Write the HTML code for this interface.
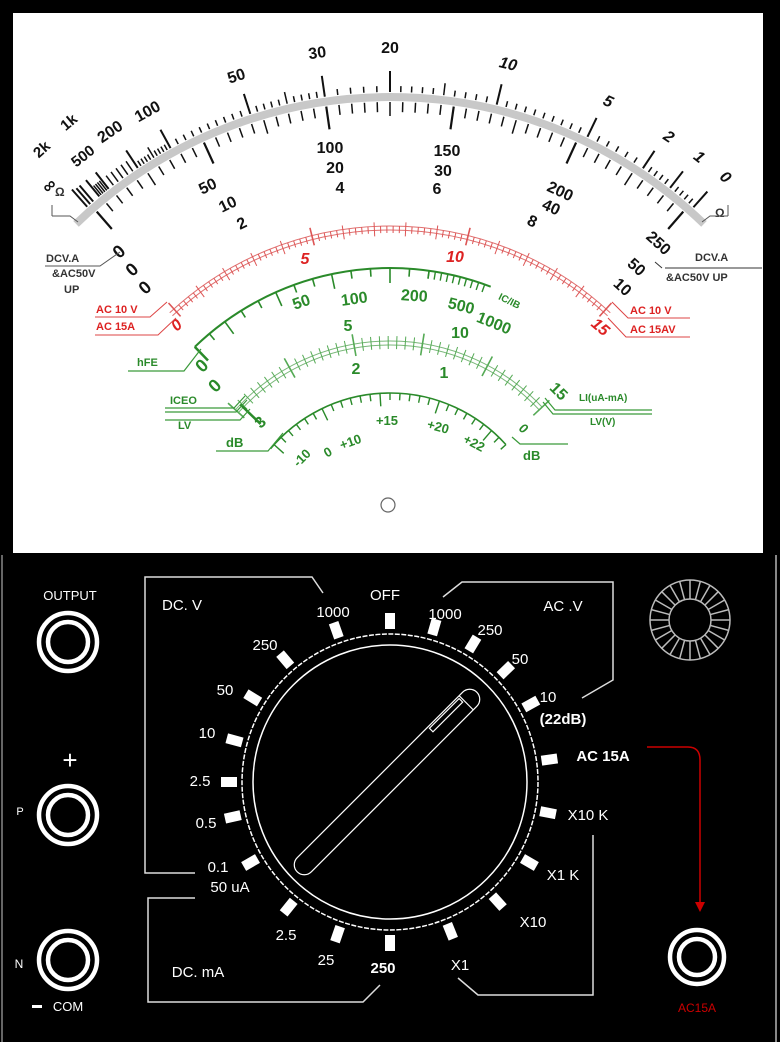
<!DOCTYPE html>
<html><head><meta charset="utf-8"><style>
html,body{margin:0;padding:0;background:#000;}
svg{display:block;}
.b{font-family:"Liberation Sans",sans-serif;font-weight:bold;}
.w{font-family:"Liberation Sans",sans-serif;fill:#fff;font-size:15px;}
</style></head><body>
<svg id="s" width="780" height="1042" viewBox="0 0 780 1042" xmlns="http://www.w3.org/2000/svg">
<rect x="0" y="0" width="780" height="1042" fill="#000"/>
<rect x="13" y="13" width="750" height="540" fill="#fff"/>
<line x1="776" y1="555" x2="776" y2="1042" stroke="#888" stroke-width="2"/>
<line x1="2" y1="555" x2="2" y2="1042" stroke="#666" stroke-width="2"/>
<g id="ticks"></g>
<path id="band" fill="none" stroke="#c8c8c8" stroke-width="8"/>

<g class="b" font-size="16" fill="#111" text-anchor="middle">
<text x="390" y="53">20</text>
<text x="318" y="58" transform="rotate(-8 318 58)">30</text>
<text x="238" y="81" transform="rotate(-18 238 81)">50</text>
<text x="150" y="116" transform="rotate(-29 150 116)">100</text>
<text x="113" y="136" transform="rotate(-34 113 136)">200</text>
<text x="86" y="160" transform="rotate(-38 86 160)" font-size="15">500</text>
<text x="72" y="126" transform="rotate(-40 72 126)" font-size="15">1k</text>
<text x="45" y="153" transform="rotate(-42 45 153)" font-size="15">2k</text>
<text x="53" y="190" transform="rotate(-42 53 190)" font-size="18">∞</text>
<g font-style="italic">
<text x="507" y="69" transform="rotate(13 507 69)">10</text>
<text x="606" y="106" transform="rotate(25 606 106)">5</text>
<text x="666" y="141" transform="rotate(34 666 141)">2</text>
<text x="696" y="161" transform="rotate(38 696 161)">1</text>
<text x="722" y="181" transform="rotate(42 722 181)">0</text>
</g>
<text x="330" y="153">100</text><text x="335" y="173">20</text><text x="340" y="193">4</text>
<text x="447" y="156">150</text><text x="443" y="176">30</text><text x="437" y="194">6</text>
<text x="210" y="191" transform="rotate(-26 210 191)">50</text>
<text x="230" y="209" transform="rotate(-26 230 209)">10</text>
<text x="244" y="228" transform="rotate(-26 244 228)">2</text>
<text x="558" y="196" transform="rotate(25 558 196)">200</text>
<text x="549" y="212" transform="rotate(25 549 212)">40</text>
<text x="530" y="226" transform="rotate(25 530 226)">8</text>
<text x="655" y="247" transform="rotate(42 655 247)">250</text>
<text x="633" y="271" transform="rotate(42 633 271)">50</text>
<text x="619" y="291" transform="rotate(42 619 291)">10</text>
<text x="123" y="256" transform="rotate(-42 123 256)" font-size="18">0</text>
<text x="136" y="274" transform="rotate(-42 136 274)" font-size="18">0</text>
<text x="149" y="292" transform="rotate(-42 149 292)" font-size="18">0</text>
</g>
<g font-family="Liberation Sans,sans-serif" font-size="12" font-weight="bold" fill="#333">
<text x="55" y="196">Ω</text><text x="715" y="217">Ω</text>
<text x="46" y="262" font-size="11">DCV.A</text>
<text x="52" y="277" font-size="11">&amp;AC50V</text>
<text x="64" y="293" font-size="11">UP</text>
<text x="695" y="261" font-size="11">DCV.A</text>
<text x="666" y="281" font-size="11">&amp;AC50V UP</text>
</g>
<path d="M52 216 V205 M52 216 H70 L78 222" stroke="#555" fill="none"/>
<path d="M728 216 V205 M728 216 H710 L702 222" stroke="#555" fill="none"/>
<path d="M45 266 H100 L120 252" stroke="#555" fill="none"/>
<path d="M665 268 H762 M662 268 L655 262" stroke="#333" fill="none"/>

<g class="b" fill="#d22" font-size="16" text-anchor="middle" font-style="italic">
<text x="305" y="264">5</text>
<text x="455" y="262">10</text>
<text x="180" y="329" transform="rotate(-42 180 329)">0</text>
<text x="597" y="331" transform="rotate(40 597 331)">15</text>
</g>
<g class="b" fill="#d22" font-size="11">
<text x="96" y="313">AC 10 V</text><text x="96" y="330">AC 15A</text>
<text x="630" y="314">AC 10 V</text><text x="630" y="333">AC 15AV</text>
</g>
<g stroke="#d44" fill="none" stroke-width="1">
<path d="M95 317 H150 L167 302"/><path d="M95 335 H158 L176 318"/>
<path d="M612 302 L628 318 H690"/><path d="M608 318 L626 337 H690"/>
</g>

<g class="b" fill="#2a8a2a" font-size="16" text-anchor="middle">
<text x="303" y="307" transform="rotate(-19 303 307)">50</text>
<text x="355" y="304" transform="rotate(-8 355 304)">100</text>
<text x="414" y="301" transform="rotate(4 414 301)">200</text>
<text x="460" y="311" transform="rotate(14 460 311)">500</text>
<text x="492" y="328" transform="rotate(22 492 328)">1000</text>
<text x="508" y="304" transform="rotate(26 508 304)" font-size="10">IC/IB</text>
<text x="348" y="331">5</text><text x="460" y="338">10</text>
<text x="356" y="374">2</text><text x="444" y="378">1</text>
<text x="555" y="395" transform="rotate(45 555 395)">15</text>
<text x="206" y="370" transform="rotate(-44 206 370)" font-size="18">0</text>
<text x="219" y="390" transform="rotate(-44 219 390)" font-size="18">0</text>
<text x="264" y="426" transform="rotate(-44 264 426)">3</text>
<g font-size="13">
<text x="305" y="461" transform="rotate(-45 305 461)">-10</text>
<text x="330" y="456" transform="rotate(-30 330 456)">0</text>
<text x="352" y="446" transform="rotate(-20 352 446)">+10</text>
<text x="387" y="425">+15</text>
<text x="437" y="431" transform="rotate(15 437 431)">+20</text>
<text x="472" y="447" transform="rotate(28 472 447)">+22</text>
<text x="521" y="432" transform="rotate(35 521 432)" font-style="italic">0</text>
</g>
</g>
<g class="b" fill="#2a8a2a" font-size="11">
<text x="137" y="366">hFE</text><text x="170" y="404">ICEO</text><text x="178" y="429">LV</text>
<text x="579" y="401" font-size="10">LI(uA-mA)</text><text x="590" y="425" font-size="10">LV(V)</text>
<text x="226" y="447" font-size="13">dB</text><text x="523" y="460" font-size="13">dB</text>
</g>
<g stroke="#3a9a3a" fill="none" stroke-width="1.2">
<path d="M128 371 H184 L201 349"/>
<path d="M165 408 H234 L245 396"/><path d="M165 412 H236 L247 400"/>
<path d="M165 420 H240 L250 409"/>
<path d="M216 451 H268 L283 433"/>
<path d="M545 398 L555 410 H652"/><path d="M543 402 L553 414 H652"/>
<path d="M512 437 L520 444 H568"/>
</g>
<circle cx="388" cy="505" r="7" fill="none" stroke="#666" stroke-width="1.2"/>

<g stroke="#ddd" fill="none" stroke-width="1.5">
<path d="M195 873 H145 V577 H312 L323 593"/>
<path d="M443 597 L462 582 H613 V680 L582 698"/>
<path d="M593 835 V995 H478 L458 978"/>
<path d="M195 898 H148 V1002 H363 L380 985"/>
</g>
<circle cx="390" cy="782" r="148" fill="none" stroke="#fff" stroke-width="1.5" stroke-dasharray="5 1.5"/>
<circle cx="390" cy="782" r="137" fill="none" stroke="#fff" stroke-width="1.5"/>
<g id="tabs" fill="#fff"></g>
<g transform="translate(387 782) rotate(-45)" fill="none" stroke="#fff" stroke-width="1.2">
<path d="M-117 -10 H117 A10 10 0 0 1 117 10 H-117 A10 10 0 0 1 -117 -10 Z"/>
<line x1="112" y1="-10" x2="112" y2="10"/>
<rect x="68" y="-8" width="42" height="5"/>
</g>
<g class="w" text-anchor="middle">
<text x="162" y="610" text-anchor="start">DC. V</text>
<text x="333" y="617">1000</text><text x="385" y="600">OFF</text><text x="445" y="619">1000</text>
<text x="265" y="650">250</text><text x="225" y="695">50</text><text x="207" y="738">10</text>
<text x="200" y="786">2.5</text><text x="206" y="828">0.5</text><text x="218" y="872">0.1</text>
<text x="230" y="892">50 uA</text><text x="286" y="940">2.5</text><text x="326" y="965">25</text>
<text x="383" y="973" font-weight="bold">250</text><text x="198" y="977">DC. mA</text>
<text x="460" y="970">X1</text><text x="533" y="927">X10</text><text x="563" y="880">X1 K</text>
<text x="588" y="820">X10 K</text><text x="603" y="761" font-weight="bold">AC 15A</text>
<text x="548" y="702">10</text><text x="563" y="724" font-weight="bold">(22dB)</text>
<text x="520" y="664">50</text><text x="490" y="635">250</text><text x="563" y="611">AC .V</text>
<text x="70" y="600" font-size="13">OUTPUT</text>
<text x="70" y="769" font-size="26">+</text>
<text x="20" y="815" font-size="11">P</text><text x="19" y="968" font-size="12">N</text>
<text x="68" y="1011" font-size="13">COM</text>
</g>
<rect x="32" y="1005" width="10" height="3" fill="#fff"/>
<text x="697" y="1012" font-family="Liberation Sans,sans-serif" font-size="12" fill="#c00" text-anchor="middle">AC15A</text>
<path d="M647 747 H688 Q700 747 700 760 V902" stroke="#c00" fill="none" stroke-width="1.5"/>
<path d="M695 902 L705 902 L700 912 Z" fill="#c00"/>
<g fill="none" stroke="#fff" stroke-width="4.5">
<circle cx="68" cy="642" r="29"/><circle cx="68" cy="642" r="20"/>
<circle cx="68" cy="815" r="29"/><circle cx="68" cy="815" r="20"/>
<circle cx="68" cy="960" r="29"/><circle cx="68" cy="960" r="20"/>
<circle cx="697" cy="957" r="27"/><circle cx="697" cy="957" r="18"/>
</g>
<g id="wheel" fill="none" stroke="#bbb" stroke-width="1.5">
<circle cx="690" cy="620" r="40"/><circle cx="690" cy="620" r="21"/>
</g>
</svg>
<script>
(function(){
var NS="http://www.w3.org/2000/svg",cx=390,cy=549,T=document.getElementById("ticks");
function P(r,a){a=a*Math.PI/180;return [cx+r*Math.sin(a),cy-r*Math.cos(a)];}
function L(g,r1,r2,a,col,w){var p=P(r1,a),q=P(r2,a);var l=document.createElementNS(NS,"line");
l.setAttribute("x1",p[0]);l.setAttribute("y1",p[1]);l.setAttribute("x2",q[0]);l.setAttribute("y2",q[1]);
l.setAttribute("stroke",col);l.setAttribute("stroke-width",w);g.appendChild(l);}
function A(g,r,a1,a2,col,w){var p=P(r,a1),q=P(r,a2);var e=document.createElementNS(NS,"path");
e.setAttribute("d","M"+p[0]+" "+p[1]+" A"+r+" "+r+" 0 0 1 "+q[0]+" "+q[1]);e.setAttribute("fill","none");
e.setAttribute("stroke",col);e.setAttribute("stroke-width",w);g.appendChild(e);}
var p=P(452,-44),q=P(452,44);document.getElementById("band").setAttribute("d","M"+p[0]+" "+p[1]+" A452 452 0 0 1 "+q[0]+" "+q[1]);
var K=[[0,41.6],[1,37.8],[2,33.6],[5,25.6],[10,13.5],[20,0],[30,-8.2],[50,-17.8],[100,-28.7],[200,-33.5],[500,-38],[1000,-39.5],[2000,-40.5]];
function ang(v){for(var i=0;i<K.length-1;i++){if(v<=K[i+1][0]){var t=(v-K[i][0])/(K[i+1][0]-K[i][0]);return K[i][1]+t*(K[i+1][1]-K[i][1]);}}return -41;}
var vals=[];function add(a,b,s){for(var v=a;v<b-1e-9;v+=s)vals.push(+v.toFixed(2));}
add(0,2,0.2);add(2,5,0.5);add(5,10,0.5);add(10,20,1);add(20,30,2);add(30,50,2);add(50,100,5);add(100,200,10);add(200,500,50);add(500,1000,100);vals.push(1000,2000);
var maj={0:1,1:1,2:1,5:1,10:1,20:1,30:1,50:1,100:1,200:1,500:1,1000:1,2000:1};
vals.forEach(function(v){var m=maj[v],mid=(v%5==0&&v>=5&&v<=50)||(v%50==0&&v>50);L(T,457,m?478:(mid?469:463),ang(v),"#111",m?2:1.5);});
L(T,457,480,-41.5,"#111",2);L(T,457,478,-41,"#111",2);
for(var i=0;i<=50;i++){var a=-41+82*i/50;var m=i%10==0,md=i%5==0;L(T,447,m?424:(md?433:437),a,"#111",m?2.2:1.5);}
var G=document.createElementNS(NS,"g");T.appendChild(G);
A(G,323,-43,43,"#e07070",1);A(G,319,-43,43,"#e07070",1);
for(var i=0;i<=75;i++){var a=-42+84*i/75,m=i%25==0,md=i%5==0;L(G,md?313:316,m?331:(md?327:323),a,"#d55",m?1.6:1);}
A(G,281,-44,21,"#2a8a2a",2);
for(var a=-44;a<=8;a+=4)L(G,281,(Math.round(a)%12==0)?266:273,a,"#2a8a2a",1.6);
for(var a=8;a<=21;a+=1.3)L(G,281,273,a,"#2a8a2a",1.4);
L(G,281,262,-44,"#2a8a2a",2.5);
A(G,208,-48,47,"#7ab87a",1);A(G,204,-48,47,"#7ab87a",1);
for(var i=0;i<=40;i++){var a=-48+95*i/40;var m=i%8==0;L(G,m?196:200,m?218:213,a,"#5a5",m?1.6:1);}
L(G,208,180,-46,"#2a8a2a",2.5);
A(G,156,-50,48,"#2a8a2a",1.6);
for(var i=0;i<=26;i++){var a=-48+96*i/26;var m=i%6==0;L(G,156,m?143:149,a,"#2a8a2a",1.4);}
var TB=document.getElementById("tabs");
[0,-19.5,-40.6,-58.5,-75,-90,-102.5,-120,-141,-161,180,16,31,46,61,82,101,120,138,158].forEach(function(d){
var r=document.createElementNS(NS,"rect");r.setAttribute("x",-5);r.setAttribute("y",-169);r.setAttribute("width",10);r.setAttribute("height",16);
r.setAttribute("transform","translate(390 782) rotate("+d+")");TB.appendChild(r);});
var W=document.getElementById("wheel");
for(var i=0;i<24;i++){var a=i*15*Math.PI/180;var l=document.createElementNS(NS,"line");
l.setAttribute("x1",690+21*Math.cos(a));l.setAttribute("y1",620+21*Math.sin(a));l.setAttribute("x2",690+40*Math.cos(a));l.setAttribute("y2",620+40*Math.sin(a));W.appendChild(l);}
})();
</script>
</body></html>
